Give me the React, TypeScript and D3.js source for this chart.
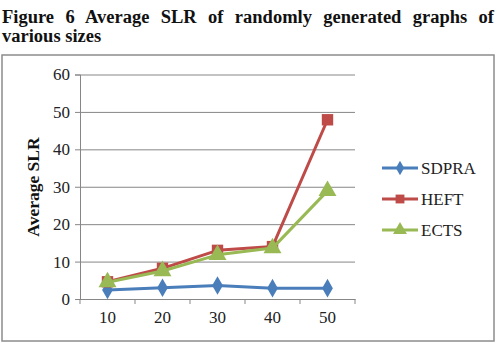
import React, { useEffect, useRef } from "react";
import * as d3 from "d3";

const sizes = ["10", "20", "30", "40", "50"];
const sdpra = [2.4, 3.0, 3.6, 2.9, 2.9];
const heft = [4.6, 8.2, 13.0, 14.0, 47.9];
const ects = [4.5, 7.5, 11.8, 13.6, 28.9];
const yTicks = [0, 10, 20, 30, 40, 50, 60];

const seriesNames = ["SDPRA", "HEFT", "ECTS"];
const seriesColors = ["#4a7ebb", "#be4b48", "#98b954"];
const seriesMarkers = [d3.symbolDiamond, d3.symbolSquare, d3.symbolTriangle];
const markerSizes = [100, 130, 140];

const captionLines = [
  "Figure 6 Average SLR of randomly generated graphs of",
  "various sizes",
];

const App: React.FC = () => {
  const svgRef = useRef<SVGSVGElement | null>(null);
  const width = 497;
  const height = 343;

  useEffect(() => {
    const svg = d3.select(svgRef.current);
    svg.selectAll("*").remove();

    const font = "Liberation Serif";
    const labelSize = 17;

    // caption above the chart box; first line is justified via word spacing
    captionLines.forEach((txt, i) => {
      const t = svg
        .append("text")
        .attr("x", 2)
        .attr("y", 23 + i * 19)
        .attr("font-family", font)
        .attr("font-weight", "bold")
        .attr("font-size", 18.5)
        .attr("fill", "#111")
        .text(txt);
      if (i === 0) {
        const w = (t.node() as SVGTextElement).getComputedTextLength();
        const gaps = txt.split(" ").length - 1;
        t.attr("word-spacing", Math.max(0, (492 - w) / gaps));
      }
    });

    // chart frame
    svg
      .append("rect")
      .attr("x", 2)
      .attr("y", 55)
      .attr("width", 492)
      .attr("height", 286)
      .attr("fill", "#fff")
      .attr("stroke", "#8c8c8c")
      .attr("stroke-width", 1.5);

    const left = 80;
    const right = 355;
    const top = 74.5;
    const bottom = 299;

    const x = d3.scaleBand().domain(sizes).range([left, right]).padding(0);
    const y = d3.scaleLinear().domain([0, 60]).range([bottom, top]);

    // horizontal grid lines
    svg
      .append("g")
      .attr("transform", `translate(${left},0)`)
      .call(
        d3
          .axisLeft(y)
          .tickValues(yTicks)
          .tickSize(-(right - left))
          .tickFormat(() => "")
      )
      .call((g) => g.select(".domain").remove())
      .selectAll(".tick line")
      .attr("stroke", "#878787")
      .attr("stroke-width", 1);

    // y axis line and labels
    const yAxis = svg
      .append("g")
      .attr("transform", `translate(${left},0)`)
      .call(d3.axisLeft(y).tickValues(yTicks).tickSize(5).tickPadding(5));
    yAxis.attr("font-family", font).attr("font-size", labelSize);
    yAxis.select(".domain").attr("stroke", "#878787");
    yAxis.selectAll(".tick line").attr("stroke", "#878787");
    yAxis.selectAll("text").attr("fill", "#222");

    // x axis: ticks sit on the category boundaries
    const xAxis = svg
      .append("g")
      .attr("transform", `translate(0,${bottom})`)
      .call(d3.axisBottom(x).tickSize(0).tickPadding(12));
    xAxis.attr("font-family", font).attr("font-size", labelSize);
    xAxis.select(".domain").attr("stroke", "#878787");
    xAxis.selectAll("text").attr("fill", "#222");
    const bounds = sizes.map((s) => x(s) as number).concat([right]);
    xAxis
      .selectAll(".bound")
      .data(bounds)
      .enter()
      .append("line")
      .attr("x1", (d) => d)
      .attr("x2", (d) => d)
      .attr("y1", 0)
      .attr("y2", 5)
      .attr("stroke", "#878787");

    // y axis title
    svg
      .append("text")
      .attr("transform", `translate(39,187) rotate(-90)`)
      .attr("text-anchor", "middle")
      .attr("font-family", font)
      .attr("font-weight", "bold")
      .attr("font-size", 17.5)
      .attr("fill", "#111")
      .text("Average SLR");

    const cx = (i: number) => (x(sizes[i]) as number) + x.bandwidth() / 2;
    const line = d3
      .line<number>()
      .x((_, i) => cx(i))
      .y((d) => y(d));

    [sdpra, heft, ects].forEach((vals, k) => {
      svg
        .append("path")
        .datum(vals)
        .attr("d", line)
        .attr("fill", "none")
        .attr("stroke", seriesColors[k])
        .attr("stroke-width", 3)
        .attr("stroke-linejoin", "round");

      svg
        .selectAll(`.m${k}`)
        .data(vals)
        .enter()
        .append("path")
        .attr("class", `m${k}`)
        .attr("transform", (d, i) => `translate(${cx(i)},${y(d)})`)
        .attr("d", d3.symbol(seriesMarkers[k], markerSizes[k])())
        .attr("fill", seriesColors[k]);
    });

    // legend
    const legend = svg.append("g").attr("transform", "translate(382,168)");
    seriesNames.forEach((name, k) => {
      const g = legend.append("g").attr("transform", `translate(0,${k * 31})`);
      g.append("line")
        .attr("x1", 0)
        .attr("x2", 36)
        .attr("stroke", seriesColors[k])
        .attr("stroke-width", 3);
      g.append("path")
        .attr("transform", "translate(18,0)")
        .attr("d", d3.symbol(seriesMarkers[k], markerSizes[k] * 0.6)())
        .attr("fill", seriesColors[k]);
      g.append("text")
        .attr("x", 39)
        .attr("y", 5.5)
        .attr("font-family", font)
        .attr("font-size", labelSize)
        .attr("fill", "#222")
        .text(name);
    });
  }, []);

  return (
    <svg
      ref={svgRef}
      width={width}
      height={height}
      style={{ position: "absolute", left: 0, top: 0 }}
    ></svg>
  );
};

export default App;
